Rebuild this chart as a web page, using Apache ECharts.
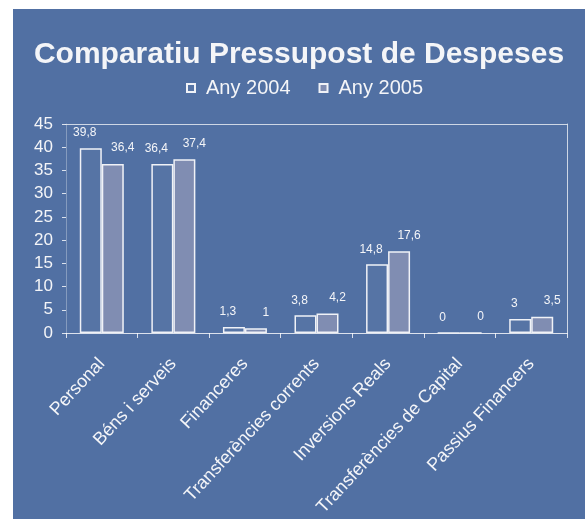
<!DOCTYPE html>
<html>
<head>
<meta charset="utf-8">
<script src="https://cdn.jsdelivr.net/npm/echarts@6/dist/echarts.min.js"></script>
<style>
html,body{margin:0;padding:0;background:#ffffff;width:585px;height:519px;overflow:hidden;}
#chart{position:absolute;left:13px;top:9px;width:572px;height:510px;}
</style>
</head>
<body>
<div id="chart"></div>
<script>
var categories = ['Personal', 'Béns i serveis', 'Financeres', 'Transferències corrents', 'Inversions Reals', 'Transferències de Capital', 'Passius Financers'];
var values2004 = [39.8, 36.4, 1.3, 3.8, 14.8, 0, 3];
var values2005 = [36.4, 37.4, 1, 4.2, 17.6, 0, 3.5];
var seriesNames = ['Any 2004', 'Any 2005'];
var yTicks = {min: 0, max: 45, interval: 5};

var BG = '#5170a3';
var TXT = '#f4f5f8';
var LINE = 'rgba(255,255,255,0.8)';
var FRAME = 'rgba(255,255,255,0.72)';
var FONT = 'Liberation Sans';

function fmt(p) { return String(p.value).replace('.', ','); }

var chart = echarts.init(document.getElementById('chart'), null, {renderer: 'canvas'});
chart.setOption({
  backgroundColor: BG,
  animation: false,
  title: {
    text: 'Comparatiu Pressupost de Despeses',
    left: 'center', top: 31, padding: [0, 0, 0, 3],
    textStyle: {color: TXT, fontFamily: FONT, fontWeight: 'bold', fontSize: 30}
  },
  legend: {
    data: [{name: seriesNames[0], icon: 'rect'}, {name: seriesNames[1], icon: 'rect'}],
    left: 168, top: 64,
    itemWidth: 8, itemHeight: 8, itemGap: 28,
    textStyle: {color: TXT, fontFamily: FONT, fontSize: 20, padding: [0, 0, 0, 6]}
  },
  grid: {left: 53, right: 18, top: 115, bottom: 186},
  xAxis: [{
    type: 'category',
    data: categories,
    axisLine: {show: true, lineStyle: {color: LINE, width: 1}},
    axisTick: {show: true, length: 5, lineStyle: {color: LINE}},
    axisLabel: {color: TXT, fontFamily: FONT, fontSize: 18, rotate: 47, margin: 28, interval: 0}
  }, {
    type: 'value', position: 'top', min: 0, max: 1,
    axisLine: {show: true, onZero: false, lineStyle: {color: FRAME, width: 1}},
    axisTick: {show: false}, axisLabel: {show: false}, splitLine: {show: false}
  }],
  yAxis: [{
    type: 'value',
    min: yTicks.min, max: yTicks.max, interval: yTicks.interval,
    axisLine: {show: true, lineStyle: {color: 'rgba(255,255,255,0.3)'}},
    axisTick: {show: true, length: 4, lineStyle: {color: LINE}},
    splitLine: {show: false},
    axisLabel: {color: TXT, fontFamily: FONT, fontSize: 17, margin: 13}
  }, {
    type: 'value', position: 'right', min: 0, max: 1,
    axisLine: {show: true, onZero: false, lineStyle: {color: FRAME, width: 1}},
    axisTick: {show: false}, axisLabel: {show: false}, splitLine: {show: false}
  }],
  series: [{
    name: seriesNames[0], type: 'bar', data: values2004,
    xAxisIndex: 0, yAxisIndex: 0,
    barWidth: 22, barGap: '0%',
    itemStyle: {color: 'rgba(255,255,255,0.03)', borderColor: '#f0f2f7', borderWidth: 1.5},
    label: {show: true, position: 'top', distance: 9, offset: [-6, 0], formatter: fmt,
      color: TXT, fontFamily: FONT, fontSize: 12}
  }, {
    name: seriesNames[1], type: 'bar', data: values2005,
    xAxisIndex: 0, yAxisIndex: 0,
    barWidth: 22,
    itemStyle: {color: '#808db2', borderColor: '#f0f2f7', borderWidth: 1.5},
    label: {show: true, position: 'top', distance: 10, offset: [10, 0], formatter: fmt,
      color: TXT, fontFamily: FONT, fontSize: 12}
  }]
});
</script>
</body>
</html>
